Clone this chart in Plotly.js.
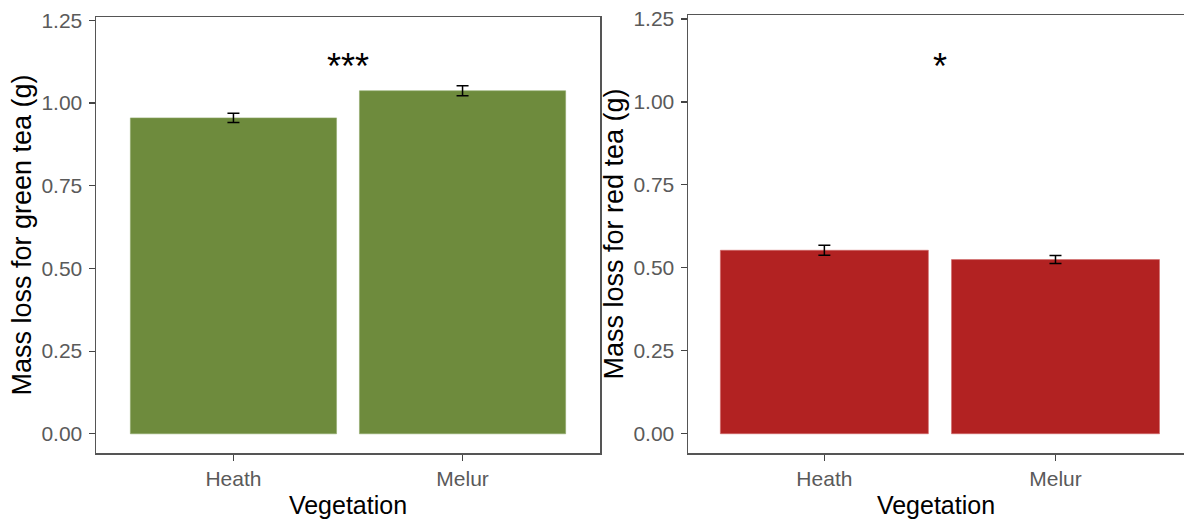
<!DOCTYPE html>
<html>
<head>
<meta charset="utf-8">
<script src="https://cdn.plot.ly/plotly-3.0.1.min.js"></script>
<style>html,body{margin:0;padding:0;background:#fff;}#chart{width:1184px;height:519px;}</style>
</head>
<body>
<div id="chart"></div>
<script>
const categories = ["Heath", "Melur"];
const greenMass = [0.955, 1.037];
const greenErr = [0.014, 0.015];
const redMass = [0.553, 0.525];
const redErr = [0.015, 0.012];
const yTicks = [0, 0.25, 0.5, 0.75, 1.0, 1.25];
const yTickLabels = ["0.00", "0.25", "0.50", "0.75", "1.00", "1.25"];
const greenSig = "***";
const redSig = "*";
const sigY = [1.118, 1.115];

const W = 1184, H = 519;
const font = "Liberation Sans, Arial, sans-serif";

const errStyle = (arr) => ({type: "data", array: arr, visible: true, color: "#000", thickness: 1.5, width: 6});

const traces = [
  {type: "bar", x: categories, y: greenMass, xaxis: "x", yaxis: "y", width: 0.9,
   marker: {color: "#6E8B3D", line: {color: "#8fa86a", width: 0.6}}, error_y: errStyle(greenErr), hoverinfo: "none"},
  {type: "bar", x: categories, y: redMass, xaxis: "x2", yaxis: "y2", width: 0.9,
   marker: {color: "#B22222", line: {color: "#d06868", width: 0.6}}, error_y: errStyle(redErr), hoverinfo: "none"}
];

const axisCommon = {
  showgrid: false, zeroline: false, showline: true, linecolor: "#555", linewidth: 1.5,
  ticks: "outside", ticklen: 6, tickwidth: 1.2, tickcolor: "#444",
  tickfont: {family: font, size: 21, color: "#5a5a5a"}
};
const xTitleFont = {family: font, size: 25, color: "#000"};
const yTitleFont = {family: font, size: 27, color: "#000"};

const layout = {
  width: W, height: H,
  margin: {l: 0, r: 0, t: 0, b: 0},
  paper_bgcolor: "#fff", plot_bgcolor: "#fff",
  showlegend: false,
  xaxis: Object.assign({}, axisCommon, {domain: [96/W, 600/W], range: [-0.6, 1.6], mirror: true, anchor: "y",
    title: {text: "Vegetation", font: xTitleFont, standoff: 11}}),
  yaxis: Object.assign({}, axisCommon, {domain: [1-453/H, 1-17/H], range: [-0.058, 1.26], mirror: true, anchor: "x",
    tickvals: yTicks, ticktext: yTickLabels, ticklabelstandoff: 2,
    title: {text: "Mass loss for green tea (g)", font: yTitleFont, standoff: 2}}),
  xaxis2: Object.assign({}, axisCommon, {domain: [688/W, 1], range: [-0.59, 1.556], mirror: true, anchor: "y2",
    title: {text: "Vegetation", font: xTitleFont, standoff: 11}}),
  yaxis2: Object.assign({}, axisCommon, {domain: [1-453/H, 1-15/H], range: [-0.058, 1.262], mirror: false, anchor: "x2",
    tickvals: yTicks, ticktext: yTickLabels, ticklabelstandoff: 2,
    title: {text: "Mass loss for red tea (g)", font: yTitleFont, standoff: 2}}),
  annotations: [
    {xref: "x", yref: "y", x: 0.5, y: sigY[0], yshift: -3, text: greenSig, showarrow: false, font: {family: font, size: 36, color: "#000"}},
    {xref: "x2", yref: "y2", x: 0.5, y: sigY[1], yshift: -3, text: redSig, showarrow: false, font: {family: font, size: 36, color: "#000"}}
  ]
};

Plotly.newPlot("chart", traces, layout, {staticPlot: true, displayModeBar: false});
</script>
</body>
</html>
